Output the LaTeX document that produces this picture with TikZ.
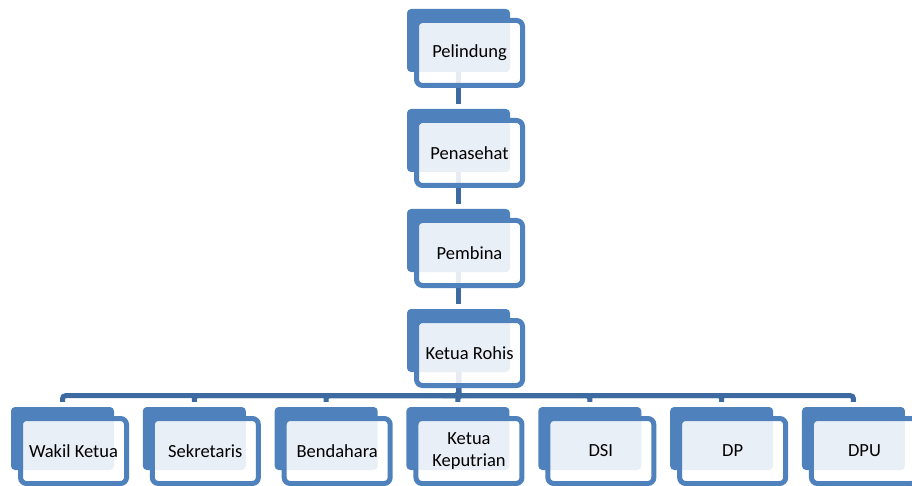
\documentclass[tikz,border=0pt]{standalone}
\usepackage{fontspec}
\setmainfont{Carlito}
\usepackage{tikz}
\usetikzlibrary{calc}

\definecolor{boxblue}{RGB}{79,129,189}
\definecolor{linkblue}{RGB}{61,106,160}

\tikzset{
  backbox/.style={fill=boxblue, rounded corners=4pt, inner sep=0pt,
    minimum width=103pt, minimum height=63pt},
  frontbox/.style={draw=boxblue, line width=5pt, fill=white, fill opacity=0.88,
    text opacity=1, rounded corners=6pt, inner sep=0pt, align=center,
    minimum width=106pt, minimum height=65pt,
    font=\fontsize{18.5}{22}\selectfont},
  link/.style={draw=linkblue, line width=5pt, rounded corners=3pt, shorten >=5pt}
}

\begin{document}
\begin{tikzpicture}[x=1pt,y=-1pt]
    \useasboundingbox (0,0) rectangle (912,486);

    % Back shapes, top column
    \node[backbox] (pelindung) at (458.5,40.5) {};
    \node[backbox] (penasehat) at (458.5,140.5) {};
    \node[backbox] (pembina)   at (458.5,240.5) {};
    \node[backbox] (rohis)     at (458.5,340.5) {};

    % Back shapes, bottom row
    \foreach \name [count=\i from 0] in {wakil,sekretaris,bendahara,keputrian,dsi,dp,dpu}
      \node[backbox] (\name) at ({62.5+131.83*\i},438.5) {};

    % Connectors
    \draw[link] (pelindung.south) -- (penasehat.north);
    \draw[link] (penasehat.south) -- (pembina.north);
    \draw[link] (pembina.south) -- (rohis.north);
    \foreach \name in {wakil,sekretaris,bendahara,keputrian,dsi,dp,dpu}
      \draw[link] (rohis.south) -- ++(0,23.5) -| (\name.north);

    % Text boxes, top column
    \node[frontbox] (pelindung-t) at ($(pelindung)+(11,12.5)$) {Pelindung};
    \node[frontbox] (penasehat-t) at ($(penasehat)+(11,12.5)$) {Penasehat};
    \node[frontbox] (pembina-t)   at ($(pembina)+(11,12.5)$)   {Pembina};
    \node[frontbox] (rohis-t)     at ($(rohis)+(11,12.5)$)     {Ketua Rohis};

    % Text boxes, bottom row
    \foreach \name/\txt in {wakil/Wakil Ketua, sekretaris/Sekretaris,
        bendahara/Bendahara, keputrian/{Ketua\\Keputrian}, dsi/DSI, dp/DP, dpu/DPU}
      \node[frontbox] (\name-t) at ($(\name)+(11,12.5)$) {\txt};
\end{tikzpicture}
\end{document}
